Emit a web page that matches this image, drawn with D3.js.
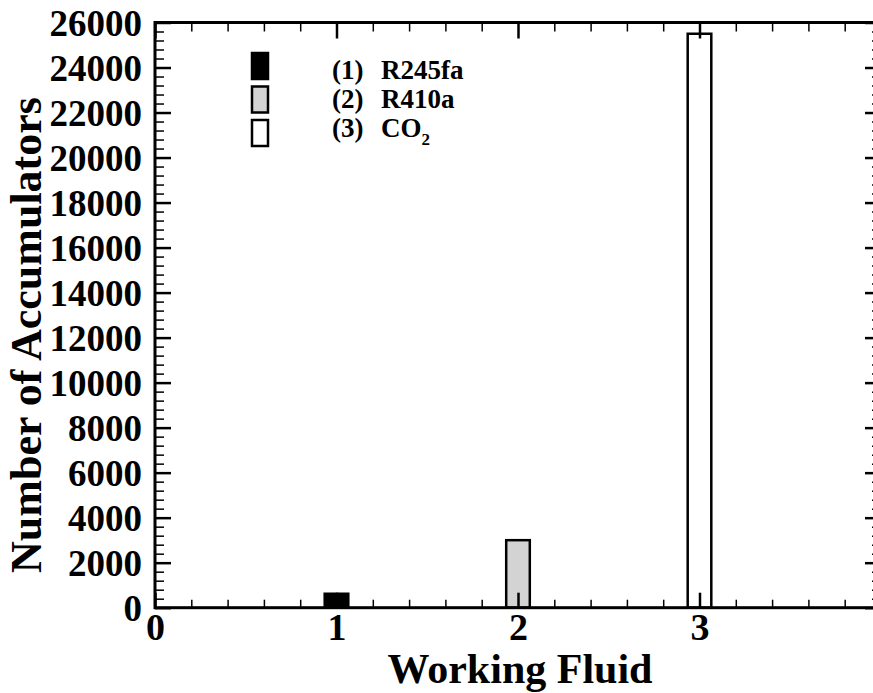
<!DOCTYPE html>
<html>
<head>
<meta charset="utf-8">
<script src="https://cdn.jsdelivr.net/npm/d3@7"></script>
<style>
  html, body { margin: 0; padding: 0; background: #fff; overflow: hidden; }
  svg { display: block; }
  text { font-family: "Liberation Serif", "Times New Roman", serif; font-weight: bold; fill: #000; }
</style>
</head>
<body>
<svg id="chart" width="873" height="693"></svg>
<script>
// Working fluids and the number of accumulators each one needs
const fluidIds = [1, 2, 3];
const fluidNames = ["R245fa", "R410a", "CO2"];
const accumulators = [620, 3000, 25500];
const fills = ["#000000", "#d3d3d3", "#ffffff"];
const yTickValues = [0, 2000, 4000, 6000, 8000, 10000, 12000, 14000, 16000, 18000, 20000, 22000, 24000, 26000];
const xTickValues = [0, 1, 2, 3, 4];
const xTickLabels = ["0", "1", "2", "3", ""];

const svg = d3.select("#chart");
const plotLeft = 155, plotRight = 881, plotTop = 22.5, plotBottom = 607.7;

const x = d3.scaleLinear().domain([0, 4]).range([plotLeft, plotRight]);
const y = d3.scaleLinear().domain([0, 26000]).range([plotBottom, plotTop]);

const barWidth = 0.13;

// Bars
svg.append("g").selectAll("rect")
  .data(fluidIds)
  .join("rect")
  .attr("x", (d) => x(d - barWidth / 2))
  .attr("width", (d) => x(d + barWidth / 2) - x(d - barWidth / 2))
  .attr("y", (d, i) => y(accumulators[i]))
  .attr("height", (d, i) => y(0) - y(accumulators[i]))
  .attr("fill", (d, i) => fills[i])
  .attr("stroke", "#000")
  .attr("stroke-width", 2.5);

// Minor tick values
const xMinor = d3.range(0, 4.0001, 0.2).filter(v => Math.abs(v - Math.round(v)) > 1e-6);
const yMinor = d3.range(0, 26001, 400).filter(v => v % 2000 !== 0);

function styleAxis(g, w) {
  g.select(".domain").remove();
  g.selectAll(".tick line").attr("stroke", "#000").attr("stroke-width", w);
}

// Left axis
svg.append("g").attr("transform", `translate(${plotLeft},0)`)
  .call(d3.axisLeft(y).tickValues(yMinor).tickSize(-9).tickFormat(""))
  .call(g => styleAxis(g, 1.5));
svg.append("g").attr("transform", `translate(${plotLeft},0)`)
  .call(d3.axisLeft(y).tickValues(yTickValues).tickSize(-16).tickPadding(13).tickFormat(d3.format("d")))
  .call(g => styleAxis(g, 2.5))
  .call(g => g.selectAll("text").attr("font-size", 37).attr("dy", "0.34em"));

// Right axis
svg.append("g").attr("transform", `translate(${plotRight},0)`)
  .call(d3.axisRight(y).tickValues(yMinor).tickSize(-9).tickFormat(""))
  .call(g => styleAxis(g, 1.5));
svg.append("g").attr("transform", `translate(${plotRight},0)`)
  .call(d3.axisRight(y).tickValues(yTickValues).tickSize(-16).tickFormat(""))
  .call(g => styleAxis(g, 2.5));

// Bottom axis
svg.append("g").attr("transform", `translate(0,${plotBottom})`)
  .call(d3.axisBottom(x).tickValues(xMinor).tickSize(-8).tickFormat(""))
  .call(g => styleAxis(g, 1.5));
svg.append("g").attr("transform", `translate(0,${plotBottom})`)
  .call(d3.axisBottom(x).tickValues(xTickValues).tickSize(-15).tickFormat((d, i) => xTickLabels[i]))
  .call(g => styleAxis(g, 2.5))
  .call(g => g.selectAll("text").attr("font-size", 38).attr("y", 32).attr("dy", 0));

// Top axis
svg.append("g").attr("transform", `translate(0,${plotTop})`)
  .call(d3.axisTop(x).tickValues(xMinor).tickSize(-9).tickFormat(""))
  .call(g => styleAxis(g, 1.5));
svg.append("g").attr("transform", `translate(0,${plotTop})`)
  .call(d3.axisTop(x).tickValues(xTickValues).tickSize(-16).tickFormat(""))
  .call(g => styleAxis(g, 2.5));

// Frame
svg.append("rect")
  .attr("x", plotLeft).attr("y", plotTop)
  .attr("width", plotRight - plotLeft).attr("height", plotBottom - plotTop)
  .attr("fill", "none").attr("stroke", "#000").attr("stroke-width", 3);

// Axis titles
svg.append("text")
  .attr("x", 520).attr("y", 683)
  .attr("text-anchor", "middle").attr("font-size", 42)
  .text("Working Fluid");
svg.append("text")
  .attr("transform", "translate(41,335) rotate(-90)")
  .attr("text-anchor", "middle").attr("font-size", 44)
  .text("Number of Accumulators");

// Legend
const legend = svg.append("g");
const boxY = [52, 85.5, 119];
const textY = [79, 108, 137];
legend.selectAll("rect")
  .data(fluidIds)
  .join("rect")
  .attr("x", 252).attr("y", (d, i) => boxY[i] + 1)
  .attr("width", 16).attr("height", 26)
  .attr("fill", (d, i) => fills[i])
  .attr("stroke", "#000").attr("stroke-width", 2.5);

const labels = legend.selectAll("g.lbl")
  .data(fluidIds)
  .join("g").attr("class", "lbl");
labels.append("text")
  .attr("x", 332).attr("y", (d, i) => textY[i])
  .attr("font-size", 27)
  .text(d => `(${d})`);
labels.append("text")
  .attr("x", 381).attr("y", (d, i) => textY[i])
  .attr("font-size", 27)
  .each(function (d, i) {
    const name = fluidNames[i];
    const t = d3.select(this);
    const m = name.match(/^(CO)(2)$/);
    if (m) {
      t.append("tspan").text(m[1]);
      t.append("tspan").attr("font-size", 17).attr("dy", 8).text(m[2]);
    } else {
      t.text(name);
    }
  });
</script>
</body>
</html>
